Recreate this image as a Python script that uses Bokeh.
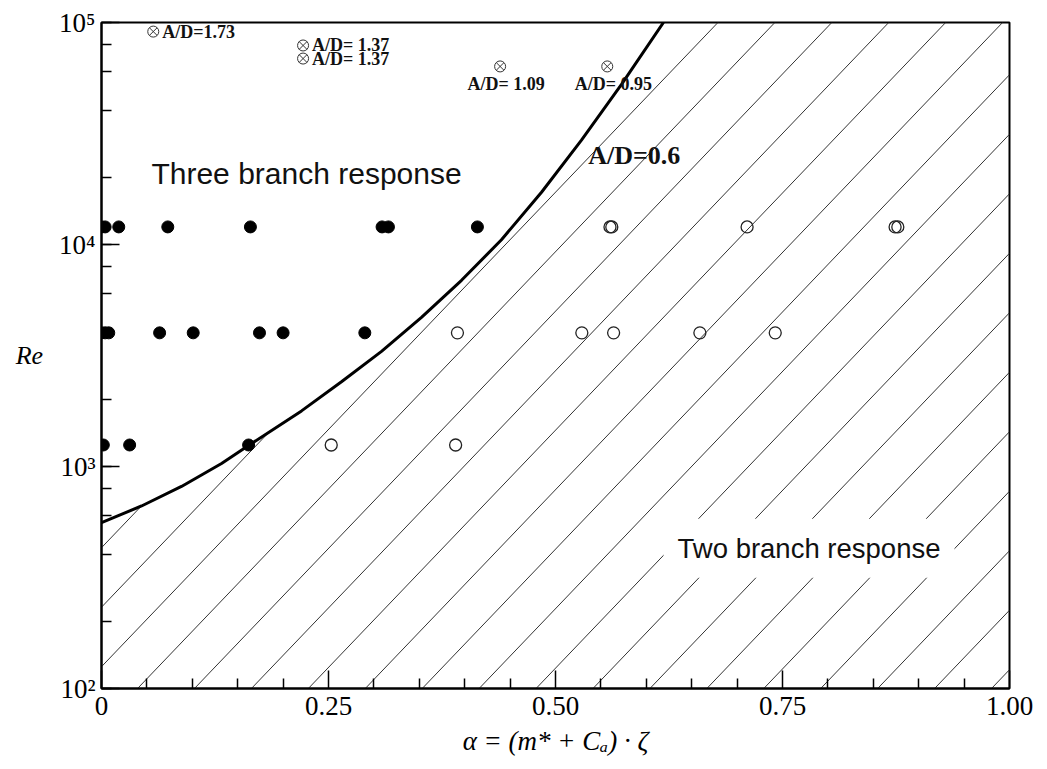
import numpy as np
from bokeh.plotting import figure
from bokeh.models import FixedTicker, LogTicker, Label
from bokeh.embed import file_html
from bokeh.resources import INLINE
from bokeh.core.properties import value

# ---------------- data ----------------
# A/D = 0.6 boundary curve (alpha, Re)
curve_alpha = [0.0, 0.0441, 0.0881, 0.1322, 0.1619, 0.2203, 0.2643, 0.3084,
               0.3524, 0.3965, 0.4405, 0.4846, 0.5286, 0.5727, 0.6189]
curve_re = [559, 664, 813, 1032, 1243, 1780, 2408, 3300,
            4700, 6900, 10500, 17200, 29500, 52600, 100000]

# three-branch (filled) cases
filled_alpha = [0.0, 0.004, 0.019, 0.073, 0.164, 0.309, 0.316, 0.414,
                0.0, 0.004, 0.008, 0.064, 0.101, 0.174, 0.200, 0.290,
                0.002, 0.031, 0.162]
filled_re = [12000] * 8 + [4000] * 8 + [1250] * 3

# two-branch (open) cases
open_alpha = [0.560, 0.562, 0.711, 0.874, 0.877,
              0.392, 0.529, 0.564, 0.659, 0.742,
              0.253, 0.390]
open_re = [12000] * 5 + [4000] * 5 + [1250] * 2

# literature cases with A/D labels
lit_alpha = [0.057, 0.222, 0.222, 0.439, 0.557]
lit_re = [91000, 78800, 68800, 63400, 63400]
lit_labels = ["A/D=1.73", "A/D= 1.37", "A/D= 1.37", "A/D= 1.09", "A/D= 0.95"]

x_ticks = [0, 0.25, 0.5, 0.75, 1.0]
x_tick_labels = ["0", "0.25", "0.50", "0.75", "1.00"]
x_minor = [0.05, 0.1, 0.15, 0.2, 0.3, 0.35, 0.4, 0.45, 0.55, 0.6, 0.65, 0.7,
           0.8, 0.85, 0.9, 0.95]
y_tick_labels = {100: "10²", 1000: "10³", 10000: "10⁴", 100000: "10⁵"}

# ---------------- style ----------------
SERIF = "Liberation Serif"
SANS = "Liberation Sans"
FRAME_W, FRAME_H = 908, 666
HATCH_SLOPE_PX = 1.045      # screen slope of hatch lines
HATCH_STEP = 0.0627         # spacing along alpha
HATCH_START = 0.0397        # first crossing of the bottom axis

X0, X1, LOG_Y0, LOG_Y1 = 0.0, 1.0, 2.0, 5.0

p = figure(width=1040, height=768, x_range=(X0, X1), y_range=(10**LOG_Y0, 10**LOG_Y1),
           y_axis_type="log", output_backend="svg", toolbar_location=None,
           min_border_left=101, min_border_right=31, min_border_top=22,
           min_border_bottom=80)
p.grid.visible = False
p.background_fill_color = "white"
p.border_fill_color = "white"
p.outline_line_color = "black"
p.outline_line_width = 2

# ---- hatching of the two-branch region (below / right of the curve) ----
k = HATCH_SLOPE_PX * (FRAME_W / (X1 - X0)) / (FRAME_H / (LOG_Y1 - LOG_Y0))
log_curve = np.log10(curve_re)
a_grid = np.linspace(X0, X1, 8001)
c_grid = np.where(a_grid <= curve_alpha[-1],
                  np.interp(a_grid, curve_alpha, log_curve), LOG_Y1)
c_grid = np.minimum(c_grid, LOG_Y1)
hx0, hy0, hx1, hy1 = [], [], [], []
for i in range(-4, 17):
    ab = HATCH_START + i * HATCH_STEP
    if ab > X1:
        break
    if ab >= X0:
        a0, l0 = ab, LOG_Y0
    else:
        a0, l0 = X0, LOG_Y0 + k * (X0 - ab)
    if l0 >= np.interp(a0, a_grid, c_grid):
        continue
    L = l0 + k * (a_grid - a0)
    bad = (a_grid >= a0) & (L >= c_grid)
    if bad.any():
        j = int(np.argmax(bad))
        d_prev = c_grid[j - 1] - L[j - 1]
        d_cur = c_grid[j] - L[j]
        t = d_prev / (d_prev - d_cur) if d_prev != d_cur else 1.0
        a1 = a_grid[j - 1] + t * (a_grid[j] - a_grid[j - 1])
    else:
        a1 = X1
    l1 = l0 + k * (a1 - a0)
    hx0.append(a0); hy0.append(10**l0); hx1.append(a1); hy1.append(10**l1)
p.segment(hx0, hy0, hx1, hy1, line_color="#333333", line_width=1)

# boundary curve
p.line(curve_alpha, curve_re, line_color="black", line_width=3)

p.scatter(filled_alpha, filled_re, marker="circle", size=12,
          fill_color="black", line_color="black")
p.scatter(open_alpha, open_re, marker="circle", size=12, fill_color=None,
          line_color="#222222", line_width=1.3)
p.scatter(lit_alpha, lit_re, marker="circle_x", size=11, fill_color=None,
          line_color="#333333", line_width=1)

# labels of literature points
p.text(lit_alpha[:3], lit_re[:3], text=lit_labels[:3], x_offset=9,
       text_align="left", text_baseline="middle", text_font=value(SERIF),
       text_font_style="bold", text_font_size="18px", text_color="#111111")
p.text(lit_alpha[3:], lit_re[3:], text=lit_labels[3:], x_offset=6, y_offset=18,
       text_align="center", text_baseline="middle", text_font=value(SERIF),
       text_font_style="bold", text_font_size="18px", text_color="#111111")

p.add_layout(Label(x=0.536, y=25200, text="A/D=0.6", text_font=SERIF,
                   text_font_style="bold", text_font_size="26px",
                   text_color="#111111",
                   text_baseline="middle", text_align="left"))
p.add_layout(Label(x=0.055, y=20900, text="Three branch response",
                   text_font=SANS, text_font_size="30px", text_color="#111111",
                   text_baseline="middle", text_align="left"))
p.add_layout(Label(x=0.619, y=428, text="Two branch response",
                   text_font=SANS, text_font_size="27.5px", text_color="#111111",
                   text_baseline="middle", text_align="left",
                   background_fill_color="white", padding=14))

# axes
xa = p.xaxis[0]
xa.ticker = FixedTicker(ticks=x_ticks, minor_ticks=x_minor)
xa.major_label_overrides = {t: l for t, l in zip(x_ticks, x_tick_labels)}
ya = p.yaxis[0]
ya.ticker = LogTicker(desired_num_ticks=4)
ya.major_label_overrides = y_tick_labels
for ax in (xa, ya):
    ax.axis_line_width = 2
    ax.axis_line_color = "black"
    ax.major_tick_in = 18
    ax.major_tick_out = 0
    ax.minor_tick_in = 10
    ax.minor_tick_out = 0
    ax.major_tick_line_width = 1.5
    ax.minor_tick_line_width = 1.5
    ax.major_label_text_font = SERIF
    ax.major_label_text_font_size = "27px"
    ax.major_label_text_color = "black"
xa.major_label_standoff = 8
ya.major_label_standoff = 6

xa.axis_label = "α = (m* + Cₐ) · ζ"
xa.axis_label_text_font = SERIF
xa.axis_label_text_font_style = "italic"
xa.axis_label_text_font_size = "27px"
xa.axis_label_text_color = "black"
xa.axis_label_standoff = 8
ya.axis_label = "Re"
ya.axis_label_orientation = "horizontal"
ya.axis_label_text_font = SERIF
ya.axis_label_text_font_style = "italic"
ya.axis_label_text_font_size = "26px"
ya.axis_label_text_color = "black"
ya.axis_label_standoff = 13

open("out.html", "w").write(file_html(p, INLINE))
